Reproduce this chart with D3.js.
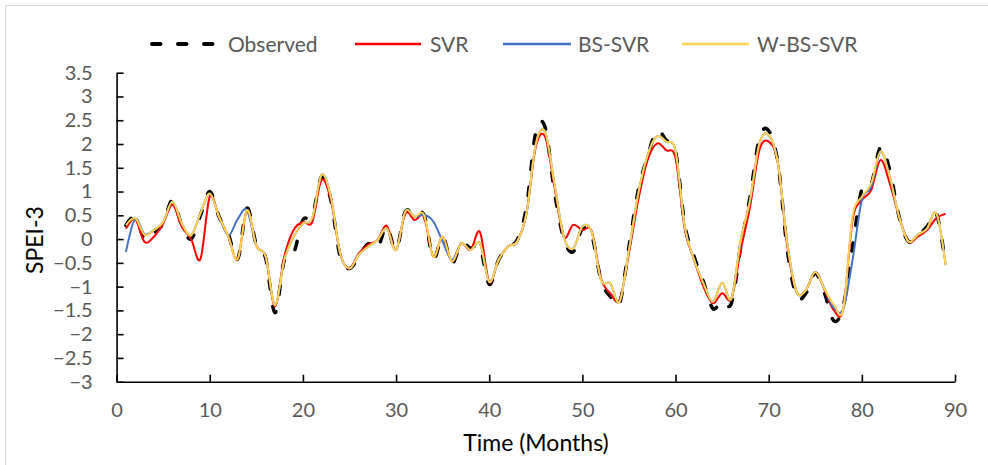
<!DOCTYPE html>
<html>
<head>
<meta charset="utf-8">
<script src="https://cdn.jsdelivr.net/npm/d3@7"></script>
<style>
  body { margin: 0; background: #fff; }
  svg { display: block; font-family: Lato, "Open Sans", sans-serif; }
</style>
</head>
<body>
<svg width="988" height="465"></svg>
<script>
// months 1..89 on the x axis
var months = d3.range(1, 90);

var observed = [0.29, 0.47, 0.0, 0.12, 0.33, 0.82, 0.29, 0.0, 0.5, 1.0,
  0.47, 0.1, -0.42, 0.65, -0.12, -0.4, -1.55, -0.44, -0.3, 0.4,
  0.47, 1.31, 0.82, -0.37, -0.62, -0.37, -0.1, -0.2, 0.26, -0.23,
  0.58, 0.47, 0.51, -0.41, 0.05, -0.51, -0.09, -0.19, -0.16, -0.95,
  -0.44, -0.16, -0.02, 0.68, 2.25, 2.35, 1.0, 0.01, -0.27, 0.22,
  0.09, -0.86, -1.21, -1.35, -0.16, 1.03, 1.74, 2.28, 2.08, 1.85,
  0.3, -0.37, -0.9, -1.46, -1.3, -1.35, -0.16, 0.89, 2.12, 2.28,
  1.59, -0.23, -1.21, -1.14, -0.72, -1.14, -1.72, -1.42, -0.16, 1.05,
  1.15, 1.93, 1.45, 0.47, -0.05, 0.09, 0.26, 0.54, -0.55];

var svr = [0.22, 0.42, -0.06, 0.05, 0.33, 0.72, 0.26, 0.0, -0.42, 0.89,
  0.47, 0.05, -0.42, 0.61, -0.14, -0.37, -1.42, -0.37, 0.19, 0.36,
  0.36, 1.24, 0.82, -0.3, -0.62, -0.3, -0.12, -0.02, 0.28, -0.23,
  0.54, 0.4, 0.47, -0.37, 0.05, -0.47, -0.09, -0.23, 0.15, -0.9,
  -0.44, -0.16, -0.05, 0.54, 1.94, 2.15, 1.1, 0.05, 0.3, 0.19,
  0.17, -0.83, -1.14, -1.28, -0.3, 0.82, 1.66, 2.01, 1.87, 1.7,
  0.2, -0.44, -1.0, -1.35, -1.14, -1.25, -0.23, 0.68, 1.87, 2.05,
  1.59, -0.16, -1.11, -1.07, -0.69, -1.07, -1.5, -1.47, 0.4, 0.82,
  1.03, 1.66, 1.17, 0.47, -0.05, 0.05, 0.19, 0.44, 0.53];

var bsSvr = [-0.27, 0.42, 0.1, 0.19, 0.36, 0.79, 0.33, 0.08, 0.54, 0.96,
  0.47, 0.08, 0.42, 0.61, -0.14, -0.37, -1.39, -0.44, 0.05, 0.33,
  0.44, 1.35, 0.89, -0.3, -0.62, -0.33, -0.16, -0.02, 0.22, -0.23,
  0.58, 0.47, 0.51, 0.37, -0.05, -0.44, -0.09, -0.23, -0.09, -0.9,
  -0.44, -0.16, -0.05, 0.54, 2.0, 2.25, 1.17, 0.05, -0.2, 0.26,
  0.15, -0.86, -0.93, -1.32, -0.23, 0.96, 1.77, 2.16, 2.05, 1.85,
  0.25, -0.44, -0.93, -1.32, -0.92, -1.25, -0.02, 0.82, 2.01, 2.19,
  1.59, -0.09, -1.11, -1.07, -0.69, -1.05, -1.45, -1.47, -0.44, 0.82,
  1.1, 1.84, 1.31, 0.47, -0.05, 0.09, 0.22, 0.54, -0.55];

var wBsSvr = [0.29, 0.44, 0.09, 0.19, 0.36, 0.79, 0.33, 0.08, 0.54, 0.96,
  0.47, 0.05, -0.42, 0.61, -0.14, -0.37, -1.39, -0.44, 0.05, 0.33,
  0.44, 1.35, 0.89, -0.3, -0.62, -0.33, -0.16, -0.02, 0.22, -0.23,
  0.58, 0.47, 0.51, -0.37, 0.05, -0.47, -0.09, -0.23, -0.09, -0.9,
  -0.44, -0.16, -0.05, 0.54, 2.0, 2.25, 1.17, 0.05, -0.2, 0.26,
  0.15, -0.86, -0.93, -1.32, -0.23, 0.96, 1.77, 2.16, 2.05, 1.85,
  0.25, -0.44, -0.93, -1.32, -0.92, -1.25, -0.02, 0.82, 2.01, 2.19,
  1.59, -0.09, -1.11, -1.07, -0.69, -1.05, -1.38, -1.47, 0.47, 0.89,
  1.17, 1.84, 1.31, 0.47, -0.05, 0.09, 0.22, 0.54, -0.55];

var xTicks = [0, 10, 20, 30, 40, 50, 60, 70, 80, 90];
var yTicks = [-3, -2.5, -2, -1.5, -1, -0.5, 0, 0.5, 1, 1.5, 2, 2.5, 3, 3.5];

var series = [
  {name: "Observed", values: observed, color: "#000", width: 3.5, dash: "8.5,17.5"},
  {name: "SVR", values: svr, color: "#ff0000", width: 2, dash: null},
  {name: "BS-SVR", values: bsSvr, color: "#4472c4", width: 2, dash: null},
  {name: "W-BS-SVR", values: wBsSvr, color: "#ffd250", width: 2, dash: null}
];

var svg = d3.select("svg");

// light frame of the chart area
svg.append("rect")
    .attr("x", 5.5).attr("y", 5.5)
    .attr("width", 1000).attr("height", 500)
    .attr("fill", "none")
    .attr("stroke", "#d9d9d9");

var x = d3.scaleLinear().domain([0, 90]).range([116.6, 955]),
    y = d3.scaleLinear().domain([-3, 3.5]).range([381.7, 72.7]);

// x axis, ticks pointing inside
var gx = svg.append("g")
    .attr("transform", "translate(0," + y(-3) + ")")
    .call(d3.axisBottom(x).tickValues(xTicks).tickSizeInner(-7).tickSizeOuter(0).tickPadding(21));

// y axis
var gy = svg.append("g")
    .attr("transform", "translate(" + x(0) + ",0)")
    .call(d3.axisLeft(y).tickValues(yTicks).tickSizeInner(-7).tickSizeOuter(0).tickPadding(24)
      .tickFormat(d3.format("")));

[gx, gy].forEach(function(g) {
  g.select(".domain").attr("stroke", "#000").attr("stroke-width", 1.6);
  g.selectAll(".tick line").attr("stroke", "#000").attr("stroke-width", 1.6);
  g.selectAll(".tick text").attr("fill", "#595959").style("font-size", "20px")
    .style("font-family", "Lato, sans-serif");
});

// series lines, smoothed like the original
var line = d3.line()
    .x(function(d, i) { return x(months[i]); })
    .y(function(d) { return y(d); })
    .curve(d3.curveCardinal.tension(0));

svg.selectAll(".series")
  .data(series)
  .enter().append("path")
    .attr("class", "series")
    .attr("d", function(d) { return line(d.values); })
    .attr("fill", "none")
    .attr("stroke", function(d) { return d.color; })
    .attr("stroke-width", function(d) { return d.width; })
    .attr("stroke-dasharray", function(d) { return d.dash; })
    .attr("stroke-linecap", function(d) { return d.dash ? "round" : "butt"; })
    .attr("stroke-linejoin", "round");

// legend
var legendX = [{x0: 152, x1: 222, tx: 228}, {x0: 355, x1: 421, tx: 430},
               {x0: 503, x1: 571, tx: 578}, {x0: 682, x1: 749, tx: 757}];
var legend = svg.selectAll(".legend")
  .data(series)
  .enter().append("g")
    .attr("class", "legend");

legend.append("line")
    .attr("x1", function(d, i) { return legendX[i].x0; })
    .attr("x2", function(d, i) { return legendX[i].x1; })
    .attr("y1", 44).attr("y2", 44)
    .attr("stroke", function(d) { return d.color; })
    .attr("stroke-width", function(d) { return d.dash ? 4 : 2.5; })
    .attr("stroke-dasharray", function(d) { return d.dash; })
    .attr("stroke-linecap", function(d) { return d.dash ? "round" : "butt"; });

legend.append("text")
    .attr("x", function(d, i) { return legendX[i].tx; })
    .attr("y", 44)
    .attr("dy", "0.36em")
    .attr("fill", "#595959")
    .style("font-size", "21px")
    .text(function(d) { return d.name; });

// axis titles
svg.append("text")
    .attr("x", 536).attr("y", 451)
    .attr("text-anchor", "middle")
    .attr("fill", "#000")
    .style("font-size", "23px")
    .text("Time (Months)");

svg.append("text")
    .attr("transform", "translate(43,240) rotate(-90)")
    .attr("text-anchor", "middle")
    .attr("fill", "#000")
    .style("font-size", "23px")
    .text("SPEI-3");
</script>
</body>
</html>
